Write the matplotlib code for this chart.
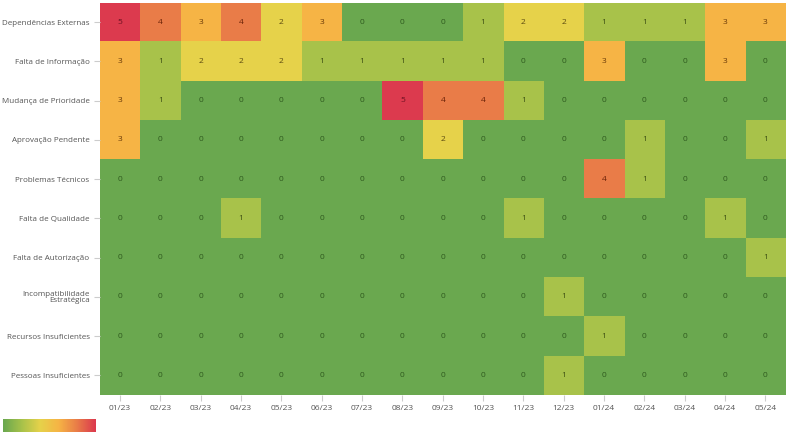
import numpy as np
import matplotlib.pyplot as plt
from matplotlib.colors import LinearSegmentedColormap

plt.rcParams['font.family'] = ['Open Sans', 'DejaVu Sans']

# ================
# Data
# ================
reasons = ['Dependências Externas', 'Falta de Informação', 'Mudança de Prioridade',
           'Aprovação Pendente', 'Problemas Técnicos', 'Falta de Qualidade',
           'Falta de Autorização', 'Incompatibilidade\nEstratégica',
           'Recursos Insuficientes', 'Pessoas Insuficientes']
months = ['01/23', '02/23', '03/23', '04/23', '05/23', '06/23', '07/23', '08/23', '09/23',
          '10/23', '11/23', '12/23', '01/24', '02/24', '03/24', '04/24', '05/24']

dependencias = [5, 4, 3, 4, 2, 3, 0, 0, 0, 1, 2, 2, 1, 1, 1, 3, 3]
informacao   = [3, 1, 2, 2, 2, 1, 1, 1, 1, 1, 0, 0, 3, 0, 0, 3, 0]
prioridade   = [3, 1, 0, 0, 0, 0, 0, 5, 4, 4, 1, 0, 0, 0, 0, 0, 0]
aprovacao    = [3, 0, 0, 0, 0, 0, 0, 0, 2, 0, 0, 0, 0, 1, 0, 0, 1]
tecnicos     = [0, 0, 0, 0, 0, 0, 0, 0, 0, 0, 0, 0, 4, 1, 0, 0, 0]
qualidade    = [0, 0, 0, 1, 0, 0, 0, 0, 0, 0, 1, 0, 0, 0, 0, 1, 0]
autorizacao  = [0, 0, 0, 0, 0, 0, 0, 0, 0, 0, 0, 0, 0, 0, 0, 0, 1]
estrategica  = [0, 0, 0, 0, 0, 0, 0, 0, 0, 0, 0, 1, 0, 0, 0, 0, 0]
recursos     = [0, 0, 0, 0, 0, 0, 0, 0, 0, 0, 0, 0, 1, 0, 0, 0, 0]
pessoas      = [0, 0, 0, 0, 0, 0, 0, 0, 0, 0, 0, 1, 0, 0, 0, 0, 0]

grid = np.array([dependencias, informacao, prioridade, aprovacao, tecnicos,
                 qualidade, autorizacao, estrategica, recursos, pessoas])

cmap = LinearSegmentedColormap.from_list(
    'gyr', ['#6aa84f', '#a8c24a', '#e6d24a', '#f6b445', '#e97c48', '#dc3a4e'])

# ================
# Plot
# ================
fig = plt.figure(figsize=(8, 4.36), dpi=100)
ax = fig.add_axes([0.125, 0.094, 0.857, 0.9])
ax.imshow(grid, cmap=cmap, vmin=0, vmax=5, aspect='auto')

txt_cols = {0: '#2f5a1e', 1: '#3d4f14', 2: '#5a4a10', 3: '#6a3a08', 4: '#6a2208', 5: '#6a1020'}
for i in range(grid.shape[0]):
    for j in range(grid.shape[1]):
        v = grid[i, j]
        ax.text(j, i, str(v), ha='center', va='center', fontsize=6, color=txt_cols[v])

ax.set_xticks(range(len(months)))
ax.set_xticklabels(months, fontsize=6, color='#555555')
ax.set_yticks(range(len(reasons)))
ax.set_yticklabels(reasons, fontsize=5.8, color='#555555', linespacing=0.85)
ax.tick_params(length=4, color='#cccccc')
for s in ax.spines.values():
    s.set_visible(False)

# colour legend at bottom left
cax = fig.add_axes([0.004, 0.01, 0.116, 0.028])
cax.imshow(np.linspace(0, 1, 100)[None, :], cmap=cmap, aspect='auto')
cax.axis('off')

fig.savefig('out.png', dpi=100)
